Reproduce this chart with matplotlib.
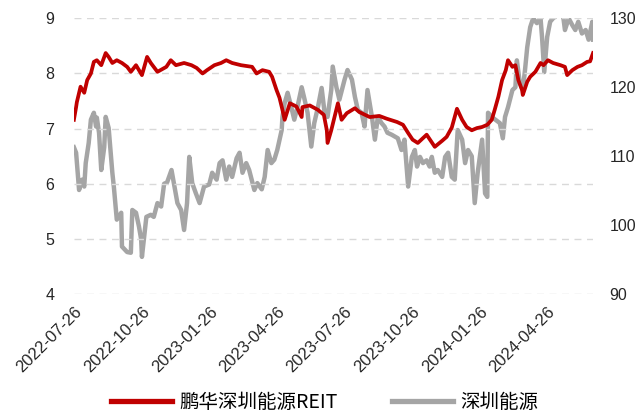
import pandas as pd
import matplotlib
matplotlib.use("Agg")
import matplotlib.pyplot as plt

plt.rcParams['font.family'] = ['Liberation Sans', 'Noto Sans CJK SC', 'DejaVu Sans']

START = pd.Timestamp("2022-07-26")

# 鹏华深圳能源REIT (left axis): days since 2022-07-26, price
reit_days = [0, 3, 4, 9, 14, 18, 23, 27, 31, 37, 43, 47, 52, 58, 65, 72, 77, 84,
             92, 99, 104, 113, 125, 131, 138, 149, 159, 166, 174, 180, 190, 199,
             206, 214, 226, 241, 247, 255, 264, 268, 274, 278, 282, 285, 292, 301,
             308, 309, 319, 330, 338, 342, 343, 348, 357, 362, 369, 380, 386, 400,
             413, 423, 437, 445, 452, 458, 465, 477, 488, 498, 504, 511, 518, 525,
             531, 538, 545, 552, 559, 565, 569, 574, 579, 584, 587, 593, 597, 601,
             606, 607, 613, 617, 624, 631, 635, 641, 648, 658, 664, 667, 674, 681,
             687, 694, 698, 702]
reit_vals = [7.16, 7.39, 7.48, 7.76, 7.65, 7.88, 8.00, 8.21, 8.24, 8.15, 8.37, 8.30,
             8.19, 8.24, 8.19, 8.12, 8.03, 8.15, 7.97, 8.30, 8.19, 8.03, 8.12, 8.24,
             8.15, 8.19, 8.15, 8.10, 8.00, 8.06, 8.15, 8.19, 8.24, 8.19, 8.15, 8.12,
             8.00, 8.06, 8.03, 7.94, 7.70, 7.56, 7.34, 7.16, 7.46, 7.40, 7.21, 7.39,
             7.42, 7.34, 7.25, 6.97, 6.74, 6.97, 7.46, 7.16, 7.28, 7.37, 7.30, 7.21,
             7.23, 7.18, 7.12, 7.07, 6.92, 6.80, 6.74, 6.89, 6.67, 6.78, 6.85, 7.02,
             7.36, 7.16, 7.03, 6.97, 7.01, 7.03, 7.07, 7.16, 7.34, 7.58, 7.88, 8.06,
             8.24, 8.12, 8.15, 7.88, 7.70, 7.61, 7.85, 7.94, 8.03, 8.19, 8.15, 8.24,
             8.19, 8.15, 8.12, 7.97, 8.06, 8.12, 8.15, 8.21, 8.22, 8.37]

# 深圳能源 (right axis): days since 2022-07-26, index level
stock_days = [0, 3, 7, 11, 14, 16, 20, 23, 27, 30, 31, 34, 37, 41, 43, 47, 52, 54,
              58, 64, 65, 72, 77, 79, 84, 88, 91, 92, 98, 104, 108, 113, 118, 122,
              126, 132, 136, 140, 145, 149, 153, 156, 160, 165, 170, 176, 183, 187,
              193, 197, 201, 206, 210, 214, 220, 224, 228, 233, 237, 244, 248, 254,
              258, 262, 267, 271, 275, 281, 282, 285, 289, 294, 298, 302, 308, 312,
              316, 321, 325, 330, 335, 339, 343, 348, 350, 355, 359, 366, 370, 376,
              380, 384, 389, 393, 397, 403, 407, 411, 416, 420, 424, 430, 438, 443,
              447, 452, 457, 461, 464, 468, 472, 477, 481, 484, 488, 492, 498, 502,
              506, 511, 515, 519, 525, 529, 533, 538, 542, 546, 552, 556, 559, 560,
              565, 570, 576, 580, 583, 587, 593, 597, 599, 603, 607, 610, 613, 617,
              621, 626, 631, 633, 636, 640, 644, 648, 654, 659, 664, 669, 674, 678,
              682, 687, 692, 696, 701, 702]
stock_vals = [111.3, 110.5, 105.1, 106.6, 105.6, 109.0, 111.9, 115.3, 116.3, 114.3,
              115.6, 113.4, 108.0, 111.3, 115.7, 114.1, 107.6, 105.6, 100.8, 101.8,
              96.9, 96.1, 96.0, 102.2, 101.8, 99.8, 97.9, 95.4, 101.2, 101.5, 101.2,
              103.2, 102.7, 106.0, 106.2, 108.0, 105.6, 103.2, 102.2, 99.3, 103.2,
              109.9, 106.1, 104.6, 103.2, 105.6, 105.9, 107.6, 106.6, 109.0, 109.4,
              106.6, 108.5, 107.0, 109.7, 110.5, 107.6, 109.0, 108.0, 105.1, 106.1,
              105.2, 107.0, 110.9, 109.0, 109.5, 110.9, 113.8, 115.7, 117.7, 119.2,
              117.1, 115.3, 117.0, 120.0, 118.2, 116.3, 111.4, 114.8, 117.1, 119.9,
              116.3, 115.7, 119.6, 123.0, 120.0, 118.2, 121.1, 122.5, 121.1, 118.6,
              116.7, 116.3, 114.3, 119.6, 115.7, 112.4, 115.7, 114.8, 114.3, 113.4,
              113.1, 112.6, 110.9, 112.4, 105.6, 109.9, 110.9, 108.5, 109.9, 109.0,
              109.4, 108.5, 109.9, 107.6, 108.0, 107.0, 109.9, 110.5, 107.0, 106.6,
              113.8, 112.4, 109.0, 110.9, 110.0, 103.2, 107.6, 112.4, 104.6, 104.1,
              116.3, 115.7, 115.3, 114.8, 112.6, 115.7, 117.1, 119.6, 120.0, 123.9,
              120.6, 119.6, 122.5, 125.8, 128.7, 130.0, 129.3, 130.0, 127.3, 122.2,
              127.3, 129.5, 130.0, 130.5, 132.5, 128.3, 130.0, 129.0, 128.3, 129.5,
              127.8, 128.3, 126.9, 129.5, 126.9]

tick_dates = ["2022-07-26", "2022-10-26", "2023-01-26", "2023-04-26",
              "2023-07-26", "2023-10-26", "2024-01-26", "2024-04-26"]

reit_x = START + pd.to_timedelta(reit_days, unit="D")
stock_x = START + pd.to_timedelta(stock_days, unit="D")

fig = plt.figure(figsize=(6.37, 4.16), dpi=100)
ax = fig.add_axes([0.116, 0.293, 0.815, 0.663])
ax2 = ax.twinx()

l1, = ax.plot(reit_x, reit_vals, color="#C00000", lw=2.7, zorder=3,
              label="鹏华深圳能源REIT")
l2, = ax2.plot(stock_x, stock_vals, color="#A5A5A5", lw=3.2,
               label="深圳能源")
ax.set_zorder(ax2.get_zorder() + 1)
ax.patch.set_visible(False)

ax.set_ylim(4, 9)
ax2.set_ylim(90, 130)
ax.set_yticks(range(4, 10))
ax2.set_yticks(range(90, 131, 10))
ax.set_xlim(START, stock_x[-1])

ax.yaxis.grid(True, color="#D9D9D9", linestyle=(0, (5, 4)), lw=1)
for a in (ax, ax2):
    for s in a.spines.values():
        s.set_visible(False)
    a.tick_params(length=0, labelsize=11.5, colors="#262626")
ax.tick_params(axis="y", pad=14)
ax2.tick_params(axis="y", pad=12)

ax.set_xticks(pd.to_datetime(tick_dates))
ax.set_xticklabels(tick_dates, rotation=45, ha="right", rotation_mode="anchor",
                   fontsize=12)
ax.tick_params(axis="x", pad=7)

leg = fig.legend([l1, l2], [l1.get_label(), l2.get_label()], loc="center",
                 bbox_to_anchor=(0.51, 0.032), ncol=2, frameon=False,
                 prop={"family": ["Noto Sans CJK SC", "DejaVu Sans"], "size": 14},
                 handlelength=3.1, columnspacing=2.8, handletextpad=0.4,
                 borderpad=0.2)
for h in leg.legend_handles:
    h.set_linewidth(3.8)

fig.savefig("out.png", dpi=100)
